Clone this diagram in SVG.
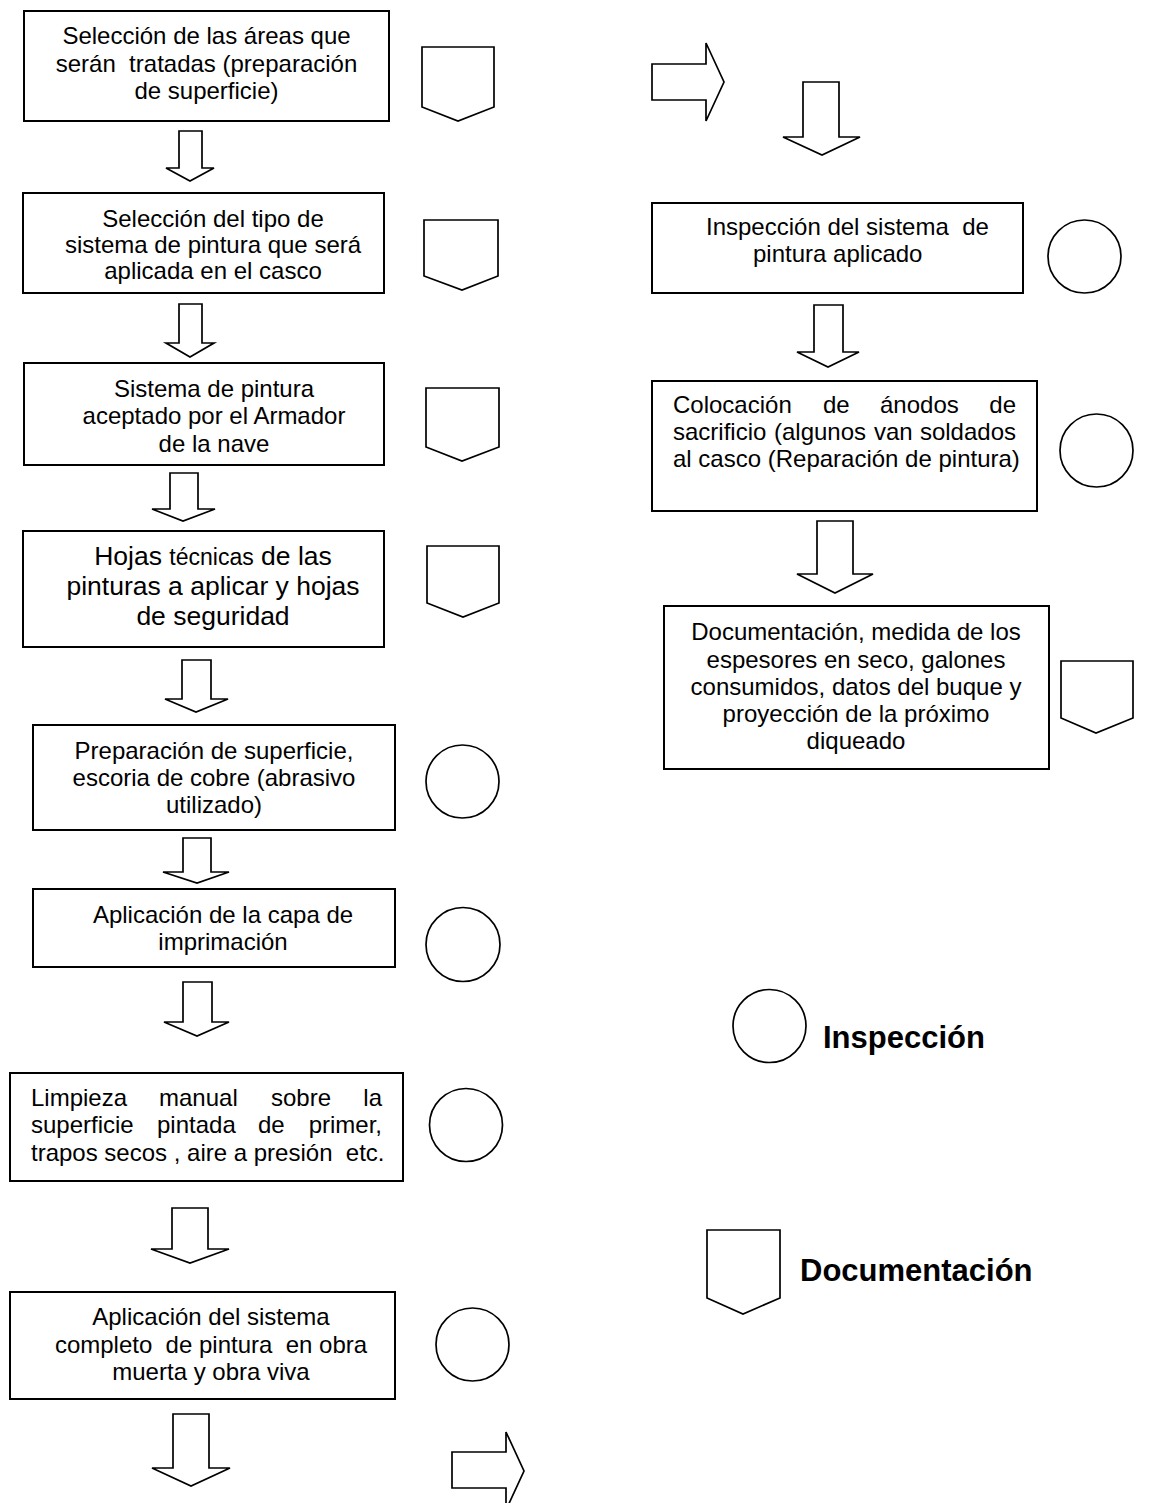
<svg xmlns="http://www.w3.org/2000/svg" width="1149" height="1503" viewBox="0 0 1149 1503">
<style>
  .box { fill: #fff; stroke: #000; stroke-width: 2; }
  .sym { fill: #fff; stroke: #000; stroke-width: 1.7; stroke-linejoin: miter; }
  .arr { fill: #fff; stroke: #000; stroke-width: 1.7; stroke-linejoin: miter; }
  text { font-family: "Liberation Sans", Arial, sans-serif; font-size: 24px; fill: #000; }
  .c { text-anchor: middle; }
  .e { text-anchor: end; }
  .leg { font-weight: bold; font-size: 31px; }
</style>
<rect width="1149" height="1503" fill="#fff"/>

<g id="connectors">
  <polygon class="arr" points="179,131 202,131 202,168 214,168 190,181 166,168 179,168"/>
  <polygon class="arr" points="179,304 202,304 202,343 214,343 190,357 166,343 179,343"/>
  <polygon class="arr" points="170,473 198,473 198,509 215,509 183,521 152,509 170,509"/>
  <polygon class="arr" points="182,660 211,660 211,699 228,699 196,712 165,699 182,699"/>
  <polygon class="arr" points="183,838 211,838 211,872 229,872 197,883 163,872 183,872"/>
  <polygon class="arr" points="183,982 212,982 212,1022 229,1022 197,1036 164,1022 183,1022"/>
  <polygon class="arr" points="172,1208 208,1208 208,1249 229,1249 190,1263 151,1249 172,1249"/>
  <polygon class="arr" points="173,1414 209,1414 209,1468 230,1468 191,1486 152,1468 173,1468"/>
  <polygon class="arr" points="452,1452 506,1452 506,1432 524,1471 506,1510 506,1488 452,1488"/>
  <polygon class="arr" points="652,64 706,64 706,43 724,82 706,121 706,100 652,100"/>
  <polygon class="arr" points="803,82 839,82 839,137 860,137 822,155 783,137 803,137"/>
  <polygon class="arr" points="814,305 843,305 843,352 859,352 828,367 797,352 814,352"/>
  <polygon class="arr" points="817,521 853,521 853,574 873,574 835,593 797,574 817,574"/>
</g>

<g id="n1">
  <rect class="box" x="24" y="11" width="365" height="110"/>
  <text class="c" x="206.5" y="44">Selección de las áreas que</text>
  <text class="c" x="206.5" y="72" xml:space="preserve">serán  tratadas (preparación</text>
  <text class="c" x="206.5" y="99">de superficie)</text>
</g>
<g id="d1"><polygon class="sym" points="422,47 494,47 494,107 458,121 422,107"/></g>

<g id="n2">
  <rect class="box" x="23" y="193" width="361" height="100"/>
  <text class="c" x="213" y="227">Selección del tipo de</text>
  <text class="c" x="213" y="253">sistema de pintura que será</text>
  <text class="c" x="213" y="279">aplicada en el casco</text>
</g>
<g id="d2"><polygon class="sym" points="424,220 498,220 498,276 462,290 424,276"/></g>

<g id="n3">
  <rect class="box" x="24" y="363" width="360" height="102"/>
  <text class="c" x="214" y="397">Sistema de pintura</text>
  <text class="c" x="214" y="424">aceptado por el Armador</text>
  <text class="c" x="214" y="452">de la nave</text>
</g>
<g id="d3"><polygon class="sym" points="426,388 499,388 499,447 462,461 426,447"/></g>

<g id="n4">
  <rect class="box" x="23" y="531" width="361" height="116"/>
  <text class="c" x="213" y="565" style="font-size:26.5px">Hojas <tspan style="font-size:23px">técnicas</tspan> de las</text>
  <text class="c" x="213" y="595" style="font-size:26.5px">pinturas a aplicar y hojas</text>
  <text class="c" x="213" y="625" style="font-size:26.5px">de seguridad</text>
</g>
<g id="d4"><polygon class="sym" points="427,546 499,546 499,603 463,617 427,603"/></g>

<g id="n5">
  <rect class="box" x="33" y="725" width="362" height="105"/>
  <text class="c" x="214" y="759">Preparación de superficie,</text>
  <text class="c" x="214" y="786">escoria de cobre (abrasivo</text>
  <text class="c" x="214" y="813">utilizado)</text>
</g>
<g id="i5"><circle class="sym" cx="462.5" cy="781.5" r="36.5"/></g>

<g id="n6">
  <rect class="box" x="33" y="889" width="362" height="78"/>
  <text class="c" x="223" y="923">Aplicación de la capa de</text>
  <text class="c" x="223" y="950">imprimación</text>
</g>
<g id="i6"><circle class="sym" cx="463" cy="944.5" r="37"/></g>

<g id="n7">
  <rect class="box" x="10" y="1073" width="393" height="108"/>
  <text y="1106"><tspan x="31">Limpieza</tspan><tspan x="159">manual</tspan><tspan x="271">sobre</tspan></text>
  <text class="e" x="382" y="1106">la</text>
  <text y="1133"><tspan x="31">superficie</tspan><tspan x="157">pintada</tspan><tspan x="258">de</tspan></text>
  <text class="e" x="382" y="1133">primer,</text>
  <text x="31" y="1161" xml:space="preserve">trapos secos , aire a presión  etc.</text>
</g>
<g id="i7"><circle class="sym" cx="466" cy="1125" r="36.5"/></g>

<g id="n8">
  <rect class="box" x="10" y="1292" width="385" height="107"/>
  <text class="c" x="211" y="1325">Aplicación del sistema</text>
  <text class="c" x="211" y="1353" xml:space="preserve">completo  de pintura  en obra</text>
  <text class="c" x="211" y="1380">muerta y obra viva</text>
</g>
<g id="i8"><circle class="sym" cx="472.5" cy="1344.5" r="36.5"/></g>

<g id="r1">
  <rect class="box" x="652" y="203" width="371" height="90"/>
  <text x="706" y="235" xml:space="preserve">Inspección del sistema  de</text>
  <text x="753" y="262">pintura aplicado</text>
</g>
<g id="ri1"><circle class="sym" cx="1084.5" cy="256.5" r="36.5"/></g>

<g id="r2">
  <rect class="box" x="652" y="381" width="385" height="130"/>
  <text y="413"><tspan x="673">Colocación</tspan><tspan x="823">de</tspan><tspan x="880">ánodos</tspan></text>
  <text class="e" x="1016" y="413">de</text>
  <text y="440"><tspan x="673">sacrificio</tspan><tspan x="774">(algunos</tspan><tspan x="874">van</tspan></text>
  <text class="e" x="1016" y="440">soldados</text>
  <text x="673" y="467">al casco (Reparación de pintura)</text>
</g>
<g id="ri2"><circle class="sym" cx="1096.5" cy="450.5" r="36.5"/></g>

<g id="r3">
  <rect class="box" x="664" y="606" width="385" height="163"/>
  <text class="c" x="856" y="640">Documentación, medida de los</text>
  <text class="c" x="856" y="668">espesores en seco, galones</text>
  <text class="c" x="856" y="695">consumidos, datos del buque y</text>
  <text class="c" x="856" y="722">proyección de la próximo</text>
  <text class="c" x="856" y="749">diqueado</text>
</g>
<g id="rd3"><polygon class="sym" points="1061,661 1133,661 1133,718 1096,733 1061,718"/></g>

<g id="legend-inspeccion">
  <circle class="sym" cx="769.5" cy="1026" r="36.5"/>
  <text class="leg" x="823" y="1048">Inspección</text>
</g>
<g id="legend-documentacion">
  <polygon class="sym" points="707,1230 780,1230 780,1298 743,1314 707,1298"/>
  <text class="leg" x="800" y="1281">Documentación</text>
</g>
</svg>
